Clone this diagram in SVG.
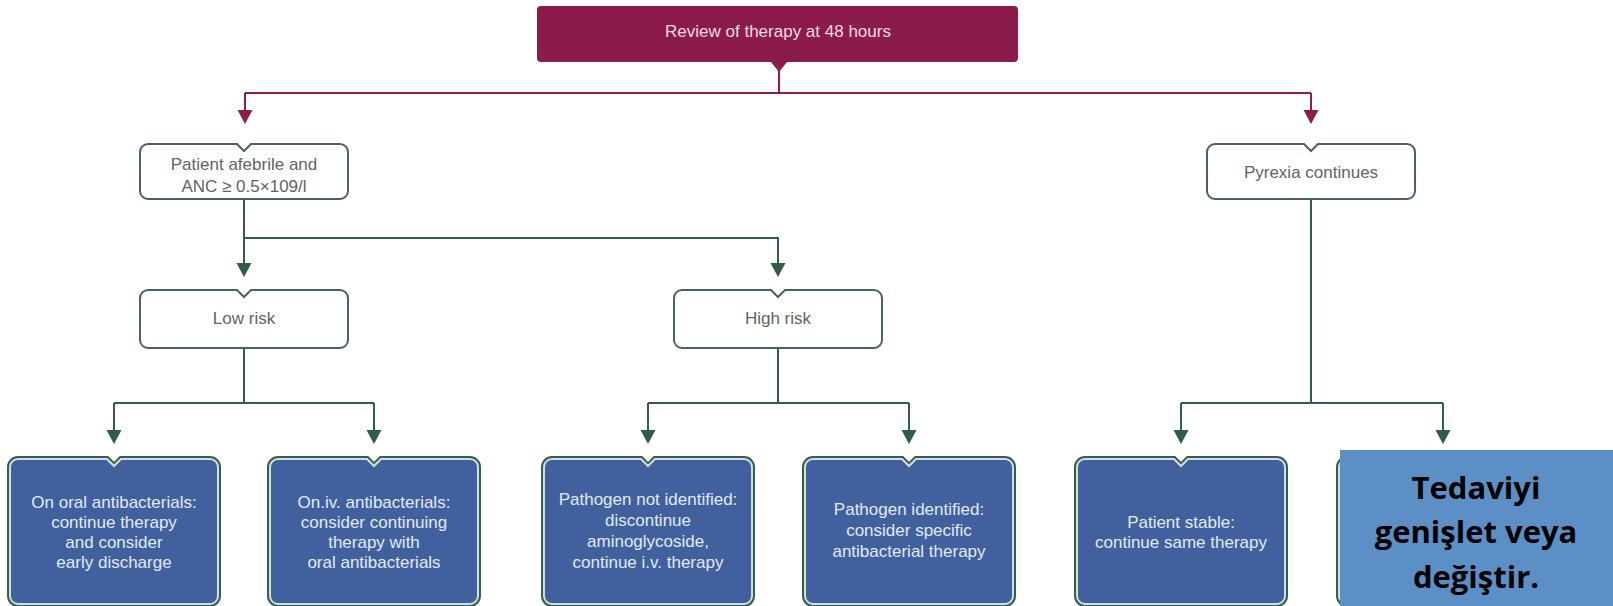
<svg xmlns="http://www.w3.org/2000/svg" width="1613" height="606" viewBox="0 0 1613 606">
<style>
.bg{fill:#ffffff}
.top{fill:#8b1b4a}
.toptext{font-family:"Liberation Sans",Arial,sans-serif;font-size:17px;fill:#f4d9e3;text-anchor:middle}
.wbox{fill:#ffffff;stroke:#4a6358;stroke-width:2}
.wtext{font-family:"Liberation Sans",Arial,sans-serif;font-size:17px;fill:#5c6662;text-anchor:middle}
.bout{fill:none;stroke:#3a5e4e;stroke-width:6}
.bin{fill:#40609e;stroke:#cfe0da;stroke-width:2}
.btext{font-family:"Liberation Sans",Arial,sans-serif;font-size:17px;fill:#e3eaf3;text-anchor:middle}
.mline{fill:none;stroke:#8e1d4c;stroke-width:2}
.mhead{fill:#8e1d4c}
.gline{fill:none;stroke:#2f5e45;stroke-width:2}
.ghead{fill:#2f5e45}
.note{fill:#5d8fc7}
.notetext{font-family:"Open Sans","Liberation Sans",Arial,sans-serif;font-weight:bold;font-size:31px;fill:#000000;text-anchor:middle}
</style>
<rect class="bg" x="0" y="0" width="1613" height="606"/>

<g id="connectors">
  <polygon class="mhead" points="771,62 787,62 779,72"/>
  <path class="mline" d="M779 62 V93 M245 93 H1311 M245 93 V112 M1311 93 V112"/>
  <polygon class="mhead" points="237.5,110 252.5,110 245,124"/>
  <polygon class="mhead" points="1303.5,110 1318.5,110 1311,124"/>

  <path class="gline" d="M244 199 V264 M244 238 H778 V264"/>
  <polygon class="ghead" points="236.5,263 251.5,263 244,277"/>
  <polygon class="ghead" points="770.5,263 785.5,263 778,277"/>

  <path class="gline" d="M244 348 V403 M114 403 H374 M114 403 V432 M374 403 V432"/>
  <polygon class="ghead" points="106.5,430 121.5,430 114,444"/>
  <polygon class="ghead" points="366.5,430 381.5,430 374,444"/>

  <path class="gline" d="M778 348 V403 M648 403 H909 M648 403 V432 M909 403 V432"/>
  <polygon class="ghead" points="640.5,430 655.5,430 648,444"/>
  <polygon class="ghead" points="901.5,430 916.5,430 909,444"/>

  <path class="gline" d="M1311 199 V403 M1181 403 H1443 M1181 403 V432 M1443 403 V432"/>
  <polygon class="ghead" points="1173.5,430 1188.5,430 1181,444"/>
  <polygon class="ghead" points="1435.5,430 1450.5,430 1443,444"/>
</g>

<g id="review">
  <rect class="top" x="537" y="6" width="481" height="56" rx="4"/>
  <text class="toptext" x="778" y="37">Review of therapy at 48 hours</text>
</g>

<g id="afebrile">
  <path class="wbox" d="M148 144 H237 L244 151 L251 144 H340 A8 8 0 0 1 348 152 V191 A8 8 0 0 1 340 199 H148 A8 8 0 0 1 140 191 V152 A8 8 0 0 1 148 144 Z"/>
  <text class="wtext" x="244" y="170">Patient afebrile and</text>
  <text class="wtext" x="244" y="192">ANC ≥ 0.5×109/l</text>
</g>

<g id="pyrexia">
  <path class="wbox" d="M1215 144 H1304 L1311 151 L1318 144 H1407 A8 8 0 0 1 1415 152 V191 A8 8 0 0 1 1407 199 H1215 A8 8 0 0 1 1207 191 V152 A8 8 0 0 1 1215 144 Z"/>
  <text class="wtext" x="1311" y="178">Pyrexia continues</text>
</g>

<g id="lowrisk">
  <path class="wbox" d="M148 290 H237 L244 297 L251 290 H340 A8 8 0 0 1 348 298 V340 A8 8 0 0 1 340 348 H148 A8 8 0 0 1 140 340 V298 A8 8 0 0 1 148 290 Z"/>
  <text class="wtext" x="244" y="324">Low risk</text>
</g>

<g id="highrisk">
  <path class="wbox" d="M682 290 H771 L778 297 L785 290 H874 A8 8 0 0 1 882 298 V340 A8 8 0 0 1 874 348 H682 A8 8 0 0 1 674 340 V298 A8 8 0 0 1 682 290 Z"/>
  <text class="wtext" x="778" y="324">High risk</text>
</g>

<g id="oral">
  <path class="bout" d="M18 459 H107 L114 466 L121 459 H210 A8 8 0 0 1 218 467 V596 A8 8 0 0 1 210 604 H18 A8 8 0 0 1 10 596 V467 A8 8 0 0 1 18 459 Z"/>
  <path class="bin" d="M18 459 H107 L114 466 L121 459 H210 A8 8 0 0 1 218 467 V596 A8 8 0 0 1 210 604 H18 A8 8 0 0 1 10 596 V467 A8 8 0 0 1 18 459 Z"/>
  <text class="btext" x="114" y="508">On oral antibacterials:</text>
  <text class="btext" x="114" y="528">continue therapy</text>
  <text class="btext" x="114" y="548">and consider</text>
  <text class="btext" x="114" y="568">early discharge</text>
</g>

<g id="iv">
  <path class="bout" d="M278 459 H367 L374 466 L381 459 H470 A8 8 0 0 1 478 467 V596 A8 8 0 0 1 470 604 H278 A8 8 0 0 1 270 596 V467 A8 8 0 0 1 278 459 Z"/>
  <path class="bin" d="M278 459 H367 L374 466 L381 459 H470 A8 8 0 0 1 478 467 V596 A8 8 0 0 1 470 604 H278 A8 8 0 0 1 270 596 V467 A8 8 0 0 1 278 459 Z"/>
  <text class="btext" x="374" y="508">On.iv. antibacterials:</text>
  <text class="btext" x="374" y="528">consider continuing</text>
  <text class="btext" x="374" y="548">therapy with</text>
  <text class="btext" x="374" y="568">oral antibacterials</text>
</g>

<g id="notidentified">
  <path class="bout" d="M552 459 H641 L648 466 L655 459 H744 A8 8 0 0 1 752 467 V596 A8 8 0 0 1 744 604 H552 A8 8 0 0 1 544 596 V467 A8 8 0 0 1 552 459 Z"/>
  <path class="bin" d="M552 459 H641 L648 466 L655 459 H744 A8 8 0 0 1 752 467 V596 A8 8 0 0 1 744 604 H552 A8 8 0 0 1 544 596 V467 A8 8 0 0 1 552 459 Z"/>
  <text class="btext" x="648" y="505">Pathogen not identified:</text>
  <text class="btext" x="648" y="526">discontinue</text>
  <text class="btext" x="648" y="547">aminoglycoside,</text>
  <text class="btext" x="648" y="568">continue i.v. therapy</text>
</g>

<g id="identified">
  <path class="bout" d="M813 459 H902 L909 466 L916 459 H1005 A8 8 0 0 1 1013 467 V596 A8 8 0 0 1 1005 604 H813 A8 8 0 0 1 805 596 V467 A8 8 0 0 1 813 459 Z"/>
  <path class="bin" d="M813 459 H902 L909 466 L916 459 H1005 A8 8 0 0 1 1013 467 V596 A8 8 0 0 1 1005 604 H813 A8 8 0 0 1 805 596 V467 A8 8 0 0 1 813 459 Z"/>
  <text class="btext" x="909" y="515">Pathogen identified:</text>
  <text class="btext" x="909" y="536">consider specific</text>
  <text class="btext" x="909" y="557">antibacterial therapy</text>
</g>

<g id="stable">
  <path class="bout" d="M1085 459 H1174 L1181 466 L1188 459 H1277 A8 8 0 0 1 1285 467 V596 A8 8 0 0 1 1277 604 H1085 A8 8 0 0 1 1077 596 V467 A8 8 0 0 1 1085 459 Z"/>
  <path class="bin" d="M1085 459 H1174 L1181 466 L1188 459 H1277 A8 8 0 0 1 1285 467 V596 A8 8 0 0 1 1277 604 H1085 A8 8 0 0 1 1077 596 V467 A8 8 0 0 1 1085 459 Z"/>
  <text class="btext" x="1181" y="528">Patient stable:</text>
  <text class="btext" x="1181" y="548">continue same therapy</text>
</g>

<g id="hidden">
  <path class="bout" d="M1347 459 H1436 L1443 466 L1450 459 H1539 A8 8 0 0 1 1547 467 V596 A8 8 0 0 1 1539 604 H1347 A8 8 0 0 1 1339 596 V467 A8 8 0 0 1 1347 459 Z"/>
  <path class="bin" d="M1347 459 H1436 L1443 466 L1450 459 H1539 A8 8 0 0 1 1547 467 V596 A8 8 0 0 1 1539 604 H1347 A8 8 0 0 1 1339 596 V467 A8 8 0 0 1 1347 459 Z"/>
</g>

<g id="tedaviyi">
  <rect class="note" x="1340" y="450" width="273" height="156"/>
  <text class="notetext" x="1476" y="499">Tedaviyi</text>
  <text class="notetext" x="1476" y="543">genişlet veya</text>
  <text class="notetext" x="1476" y="588">değiştir.</text>
</g>
</svg>
